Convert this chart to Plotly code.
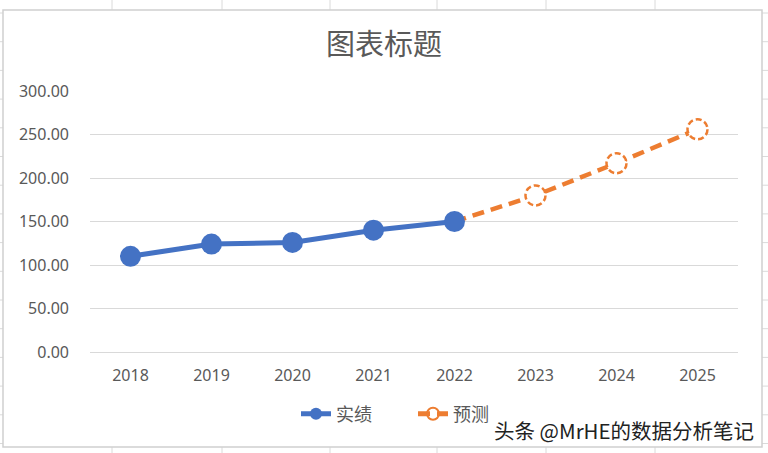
import plotly.graph_objects as go

years = ["2018", "2019", "2020", "2021", "2022", "2023", "2024", "2025"]
actual_years = ["2018", "2019", "2020", "2021", "2022"]
actual_vals = [110, 124, 126, 140, 150]
forecast_years = ["2022", "2023", "2024", "2025"]
forecast_vals = [150, 180, 217, 256]
y_ticks = [0, 50, 100, 150, 200, 250, 300]
y_tick_labels = ["0.00", "50.00", "100.00", "150.00", "200.00", "250.00", "300.00"]

BLUE = "#4472C4"
ORANGE = "#ED7D31"
TXT = "#595959"
GRID = "#D9D9D9"
CELL = "#DADADA"

W, H = 768, 453
L, R, T, B = 90, 30, 91, 101
PW, PH = W - L - R, H - T - B


def px(x):
    return (x - L) / PW


def py(y):
    return (H - B - y) / PH


fig = go.Figure()

fig.add_trace(go.Scatter(
    x=forecast_years, y=forecast_vals, name="预测", mode="lines+markers",
    line=dict(color=ORANGE, width=4.5, dash="12px,7px"),
    marker=dict(symbol="circle-open", size=12, color=ORANGE, line=dict(width=2.5, color=ORANGE)),
    legendrank=2, hoverinfo="skip",
))
fig.add_trace(go.Scatter(
    x=actual_years, y=actual_vals, name="实绩", mode="lines+markers",
    line=dict(color=BLUE, width=5),
    marker=dict(symbol="circle", size=21, color=BLUE),
    legendrank=1, hoverinfo="skip",
))

shapes = []
# dashed open markers for forecast points (skip the shared 2022 point)
for yr, v in zip(forecast_years[1:], forecast_vals[1:]):
    xi = years.index(yr)
    shapes.append(dict(
        type="circle", xref="x", yref="y", xsizemode="pixel", ysizemode="pixel",
        xanchor=xi, yanchor=v, x0=-10, x1=10, y0=-10, y1=10,
        line=dict(color=ORANGE, width=2.5, dash="6px,3px"), fillcolor="white", layer="above",
    ))

# spreadsheet cell lines outside the chart
col_x = [112, 222, 330, 437, 546, 655]
for cx in col_x:
    shapes.append(dict(type="line", xref="paper", yref="paper", x0=px(cx), x1=px(cx),
                       y0=py(0), y1=py(10), line=dict(color=CELL, width=1), layer="below"))
    shapes.append(dict(type="line", xref="paper", yref="paper", x0=px(cx), x1=px(cx),
                       y0=py(447), y1=py(453), line=dict(color=CELL, width=1), layer="below"))
row_y = [13 + 28.7 * k for k in range(16)]
for ry in row_y:
    if ry > 453:
        break
    shapes.append(dict(type="line", xref="paper", yref="paper", x0=px(0), x1=px(3),
                       y0=py(ry), y1=py(ry), line=dict(color=CELL, width=1), layer="below"))
    shapes.append(dict(type="line", xref="paper", yref="paper", x0=px(762), x1=px(768),
                       y0=py(ry), y1=py(ry), line=dict(color=CELL, width=1), layer="below"))
# chart border
shapes.append(dict(type="rect", xref="paper", yref="paper", x0=px(3), x1=px(762),
                   y0=py(447), y1=py(10), line=dict(color="#D0D0D0", width=1.5),
                   fillcolor="rgba(0,0,0,0)", layer="below"))

fig.update_layout(
    width=W, height=H,
    margin=dict(l=L, r=R, t=T, b=B),
    paper_bgcolor="white", plot_bgcolor="white",
    title=dict(text="图表标题", x=0.5, xref="container", xanchor="center",
               y=1 - 45 / H, yref="container", yanchor="middle",
               font=dict(family="Noto Sans CJK SC", size=29, color=TXT)),
    xaxis=dict(type="category", categoryorder="array", categoryarray=years,
               range=[-0.5, len(years) - 0.5], showgrid=False, zeroline=False,
               showline=False, ticks="", ticklabelstandoff=12,
               tickfont=dict(family="Noto Sans", size=16, color=TXT)),
    yaxis=dict(range=[0, 300], tickvals=y_ticks, ticktext=y_tick_labels,
               showgrid=True, gridcolor=GRID, gridwidth=1.3, zeroline=True,
               zerolinecolor=GRID, zerolinewidth=1.3, showline=False, ticks="",
               ticklabelstandoff=20,
               tickfont=dict(family="Noto Sans", size=16, color=TXT)),
    legend=dict(orientation="h", x=px(296), xanchor="left", y=py(414), yanchor="middle",
                itemsizing="constant", entrywidth=72, entrywidthmode="pixels",
                font=dict(family="Noto Sans CJK SC", size=18, color=TXT),
                bgcolor="rgba(0,0,0,0)"),
    shapes=shapes,
    annotations=[dict(text="头条 @MrHE的数据分析笔记", xref="paper", yref="paper",
                      x=px(756), y=py(430), xanchor="right", yanchor="middle", showarrow=False,
                      font=dict(family="Noto Sans CJK SC", size=20.5, color="#222222"))],
    hovermode=False,
)

fig.write_html("out.html", config={"displayModeBar": False},
               post_script="document.body.style.margin='0';")
